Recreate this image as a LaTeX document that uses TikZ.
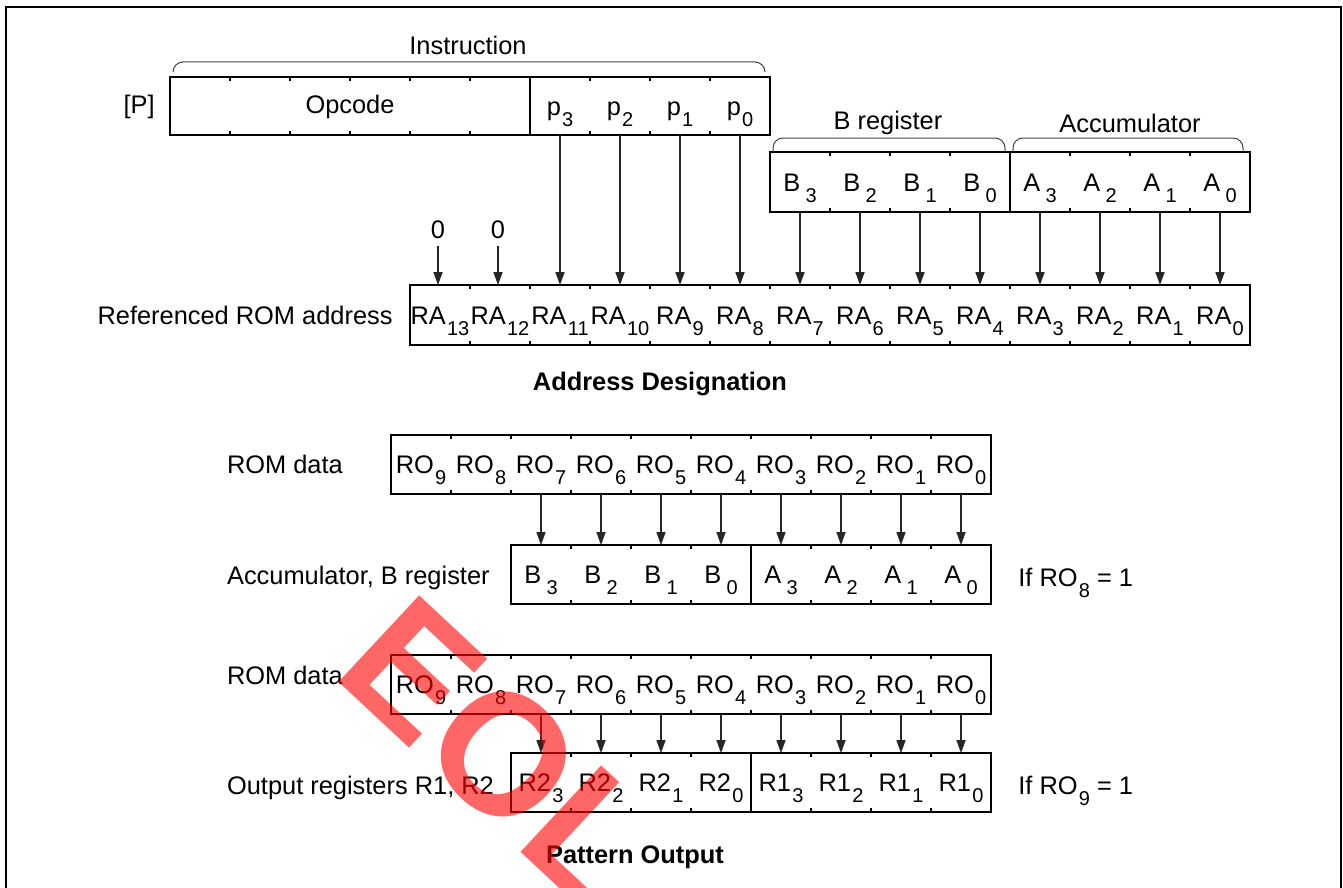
\documentclass[tikz,border=0pt]{standalone}
\usepackage{fontspec}
\setmainfont{Liberation Sans}
\usetikzlibrary{arrows.meta,positioning}

% lowered small index as in the data sheet
\newcommand{\dn}[1]{\kern0.6pt\raisebox{-5.5pt}[0pt][0pt]{\fontsize{10}{10}\selectfont #1}}

\begin{document}
\begin{tikzpicture}[
            x=0.5pt, y=-0.5pt,
            font=\fontsize{12.7}{15}\selectfont,
            reg/.style={draw, line width=0.75pt},
            tick/.style={line width=0.6pt},
            cell/.style={minimum width=30pt, minimum height=30pt, inner sep=0pt, outer sep=0pt,
                         text height=9.3pt, text depth=0pt},
            lbl/.style={inner sep=0pt, text height=9.3pt, text depth=0pt},
            arrow/.style={-{Triangle[length=6.5pt, width=4.6pt]}, line width=0.55pt, draw=black!85},
            brc/.style={line width=0.5pt, draw=black!75, rounded corners=5pt},
            title/.style={font=\fontsize{12.7}{15}\selectfont\bfseries}
        ]
        \useasboundingbox (0,0) rectangle (1343,888);
        \draw[line width=1pt] (6,888) -- (6,7) -- (1341,7) -- (1341,888);

        % ---- instruction word
        \draw[reg] (170,77) rectangle (770,135);
        \draw[tick] (530,77) -- (530,135);
        \foreach \k in {1,...,9} {
            \draw[tick] ({170+60*\k},77) -- ++(0,4);
            \draw[tick] ({170+60*\k},135) -- ++(0,-4);
        }
        \node[cell, minimum width=180pt, minimum height=29pt] (opcode) at (350,104) {Opcode};
        \foreach \i in {3,2,1,0}
            \node[cell, minimum height=29pt] (p\i) at ({740-60*\i},106) {p\dn{\i}};
        \node[lbl, anchor=base east] (preg) at ([xshift=-7.5pt]opcode.base west) {[P]};
        \draw[brc] (173,72) |- (468,62) -| (765,72);
        \node (instr) at (468,45) {Instruction};

        % ---- B register and accumulator
        \draw[reg] (770,152) rectangle (1250,212);
        \draw[tick] (1010,152) -- (1010,212);
        \foreach \k in {1,...,7} {
            \draw[tick] ({770+60*\k},152) -- ++(0,4);
            \draw[tick] ({770+60*\k},212) -- ++(0,-4);
        }
        \foreach \i/\t/\s in {7/B/3, 6/B/2, 5/B/1, 4/B/0, 3/A/3, 2/A/2, 1/A/1, 0/A/0}
            \node[cell] (ba\i) at ({1220-60*\i},182) {\t\,\dn{\s}};
        \draw[brc] (773,152) |- (889,138) -| (1005,152);
        \draw[brc] (1013,152) |- (1128,138) -| (1243,152);
        \node (breg) at (888,123) {B register};
        \node (acc) at (1130,123) {Accumulator};

        % ---- referenced ROM address
        \draw[reg] (410,285) rectangle (1250,345);
        \foreach \k in {1,...,13} {
            \draw[tick] ({410+60*\k},285) -- ++(0,4);
            \draw[tick] ({410+60*\k},345) -- ++(0,-4);
        }
        \foreach \i in {0,...,13}
            \node[cell] (ra\i) at ({1220-60*\i},315) {RA\dn{\i}};
        \node[lbl, anchor=base east] (lra) at ([xshift=-8.5pt]ra13.base west) {Referenced ROM address};
        \node (z13) at (438,230) {0};
        \node (z12) at (498,230) {0};
        \draw[arrow] (z13) -- (ra13.north -| z13);
        \draw[arrow] (z12) -- (ra12.north -| z12);
        \foreach \i in {3,2,1,0} {
            \pgfmathtruncatemacro{\j}{\i+8}
            \draw[arrow] (p\i.south) -- (ra\j.north);
        }
        \foreach \i in {7,...,0}
            \draw[arrow] (ba\i.south) -- (ra\i.north);
        \node[title] (adesig) at (660,384) {Address Designation};

        % ---- ROM data to accumulator / B register
        \draw[reg] (391,435) rectangle (991,494);
        \foreach \k in {1,...,9} {
            \draw[tick] ({391+60*\k},435) -- ++(0,4);
            \draw[tick] ({391+60*\k},494) -- ++(0,-4);
        }
        \foreach \i in {0,...,9}
            \node[cell, minimum height=29.5pt] (roa\i) at ({961-60*\i},464.5) {RO\dn{\i}};
        \node[anchor=west] (lroma) at (220,464) {ROM data};

        \draw[reg] (511,545) rectangle (991,604);
        \draw[tick] (751,545) -- (751,604);
        \foreach \k in {1,...,7} {
            \draw[tick] ({511+60*\k},545) -- ++(0,4);
            \draw[tick] ({511+60*\k},604) -- ++(0,-4);
        }
        \foreach \i/\t/\s in {7/B/3, 6/B/2, 5/B/1, 4/B/0, 3/A/3, 2/A/2, 1/A/1, 0/A/0}
            \node[cell, minimum height=29.5pt] (ab\i) at ({961-60*\i},574.5) {\t\,\dn{\s}};
        \foreach \i in {7,...,0}
            \draw[arrow] (roa\i.south) -- (ab\i.north);
        \node[anchor=west] (lacc) at (220,578) {Accumulator, B register};
        \node[lbl, anchor=base west] (ifa) at ([xshift=13.5pt, yshift=-1.5pt]ab0.base east) {If RO\dn{8} = 1};

        % ---- ROM data to output registers
        \draw[reg] (391,655) rectangle (991,714);
        \foreach \k in {1,...,9} {
            \draw[tick] ({391+60*\k},655) -- ++(0,4);
            \draw[tick] ({391+60*\k},714) -- ++(0,-4);
        }
        \foreach \i in {0,...,9}
            \node[cell, minimum height=29.5pt] (rob\i) at ({961-60*\i},684.5) {RO\dn{\i}};
        \node[anchor=west] (lromb) at (220,675) {ROM data};

        \draw[reg] (511,753) rectangle (991,812);
        \draw[tick] (751,753) -- (751,812);
        \foreach \k in {1,...,7} {
            \draw[tick] ({511+60*\k},753) -- ++(0,4);
            \draw[tick] ({511+60*\k},812) -- ++(0,-4);
        }
        \foreach \i/\t/\s in {7/R2/3, 6/R2/2, 5/R2/1, 4/R2/0, 3/R1/3, 2/R1/2, 1/R1/1, 0/R1/0}
            \node[cell, minimum height=29.5pt] (out\i) at ({961-60*\i},782.5) {\t\dn{\s}};
        \foreach \i in {7,...,0}
            \draw[arrow] (rob\i.south) -- (out\i.north);
        \node[anchor=west] (lout) at (220,788) {Output registers R1, R2};
        \node[lbl, anchor=base west] (ifb) at ([xshift=13.5pt, yshift=-1.5pt]out0.base east) {If RO\dn{9} = 1};
        \node[title] (pout) at (635,857) {Pattern Output};

        % ---- watermark
        \node[text=red, opacity=0.6, rotate=-43, inner sep=0pt,
              font=\fontsize{86}{86}\selectfont\bfseries] (eol) at (500,752) {EOL};
        \end{tikzpicture}
\end{document}
